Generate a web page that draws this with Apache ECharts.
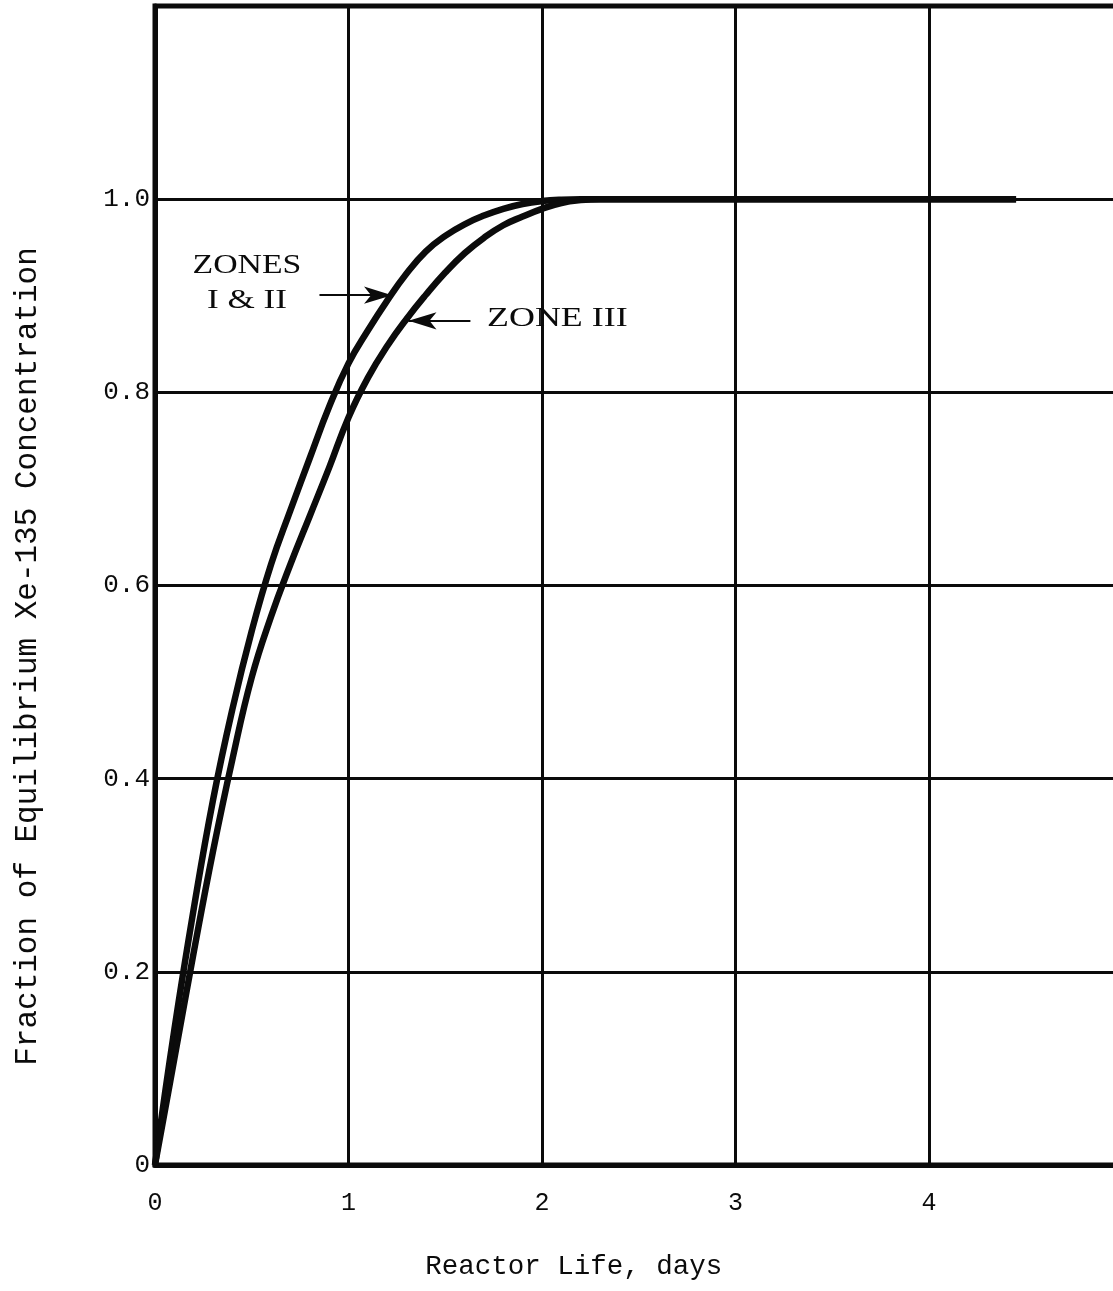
<!DOCTYPE html>
<html>
<head>
<meta charset="utf-8">
<script src="https://cdn.jsdelivr.net/npm/echarts@6/dist/echarts.min.js"></script>
<style>
  html, body { margin: 0; padding: 0; background: #fff; }
  #chart { width: 1113px; height: 1291px; }
</style>
</head>
<body>
<div id="chart"></div>
<script>
// Tick labels
const xTickLabels = ['0', '1', '2', '3', '4', ''];
const yTickLabels = ['0', '0.2', '0.4', '0.6', '0.8', '1.0', ''];

// Xe-135 build-up, Zones I & II (days, fraction of equilibrium)
const zone12Days = [0, 0.1, 0.2, 0.3, 0.4, 0.5, 0.6, 0.7, 0.8, 0.9, 1.0, 1.1, 1.2, 1.3, 1.4, 1.5, 1.6, 1.7, 1.8, 1.9, 2.0, 2.1, 2.2, 2.5, 3.0, 3.5, 4.0, 4.45];
const zone12Frac = [0, 0.14, 0.265, 0.378, 0.472, 0.553, 0.622, 0.678, 0.732, 0.785, 0.83, 0.864, 0.895, 0.923, 0.946, 0.962, 0.974, 0.983, 0.99, 0.995, 0.998, 0.9995, 1.0, 1.0, 1.0, 1.0, 1.0, 1.0];

// Xe-135 build-up, Zone III (days, fraction of equilibrium)
const zone3Days = [0, 0.1, 0.2, 0.3, 0.4, 0.5, 0.6, 0.7, 0.8, 0.9, 1.0, 1.1, 1.2, 1.3, 1.4, 1.5, 1.6, 1.7, 1.8, 1.9, 2.0, 2.1, 2.2, 2.3, 2.5, 3.0, 3.5, 4.0, 4.45];
const zone3Frac = [0, 0.11, 0.22, 0.325, 0.42, 0.505, 0.568, 0.622, 0.672, 0.722, 0.774, 0.815, 0.848, 0.876, 0.901, 0.924, 0.944, 0.96, 0.973, 0.982, 0.99, 0.996, 0.999, 1.0, 1.0, 1.0, 1.0, 1.0, 1.0];

// Callout labels and arrow positions (data units)
const calloutZone12 = { lines: ['ZONES', 'I & II'], at: [0.475, 0.931], at2: [0.475, 0.895], arrowFrom: [0.85, 0.9006], arrowTo: [1.225, 0.9006] };
const calloutZone3 = { text: 'ZONE III', at: [1.716, 0.876], arrowFrom: [1.63, 0.874], arrowTo: [1.31, 0.874] };

const ink = '#0b0b0b';
const monoFont = '"Liberation Mono", "DejaVu Sans Mono", monospace';
const serifFont = '"Liberation Serif", "DejaVu Serif", serif';

const zip = (xs, ys) => xs.map((x, i) => [x, ys[i]]);

const chart = echarts.init(document.getElementById('chart'), null, { renderer: 'canvas' });

const arrowLine = (from, to) => ({
  silent: true,
  symbol: ['none', 'arrow'],
  symbolSize: [13, 28],
  lineStyle: { color: ink, width: 2, type: 'solid' },
  label: { show: false },
  emphasis: { disabled: true },
  data: [[{ coord: from }, { coord: to }]]
});

chart.setOption({
  animation: false,
  backgroundColor: '#fff',
  grid: {
    left: 155, top: 6, right: -9.5, bottom: 126,
    outerBoundsMode: 'none',
    containLabel: false,
    show: true, borderColor: ink, borderWidth: 5, backgroundColor: 'transparent'
  },
  xAxis: {
    type: 'value', min: 0, max: 5, interval: 1,
    axisLine: { show: true, onZero: false, lineStyle: { color: ink, width: 5 } },
    axisTick: { show: false },
    splitLine: { show: true, lineStyle: { color: ink, width: 3 } },
    axisLabel: {
      margin: 26, fontFamily: monoFont, fontSize: 25, color: ink,
      formatter: v => xTickLabels[Math.round(v)]
    },
    name: 'Reactor Life, days',
    nameLocation: 'middle',
    nameGap: 88,
    nameTextStyle: { fontFamily: monoFont, fontSize: 27.5, color: ink, padding: [0, 130, 0, 0] }
  },
  yAxis: {
    type: 'value', min: 0, max: 1.2, interval: 0.2,
    axisLine: { show: true, lineStyle: { color: ink, width: 5 } },
    axisTick: { show: false },
    splitLine: { show: true, lineStyle: { color: ink, width: 3 } },
    axisLabel: {
      margin: 5, fontFamily: monoFont, fontSize: 26, color: ink,
      formatter: v => yTickLabels[Math.round(v / 0.2)]
    },
    name: 'Fraction of Equilibrium Xe-135 Concentration',
    nameLocation: 'middle',
    nameGap: 112,
    nameTextStyle: { fontFamily: monoFont, fontSize: 31, color: ink, padding: [0, 142, 0, 0] }
  },
  series: [
    {
      name: 'Zones I & II',
      type: 'line',
      data: zip(zone12Days, zone12Frac),
      smooth: 0.45,
      showSymbol: false,
      lineStyle: { color: ink, width: 6.5 },
      markLine: arrowLine(calloutZone12.arrowFrom, calloutZone12.arrowTo)
    },
    {
      name: 'Zone III',
      type: 'line',
      data: zip(zone3Days, zone3Frac),
      smooth: 0.45,
      showSymbol: false,
      lineStyle: { color: ink, width: 6.5 },
      markLine: arrowLine(calloutZone3.arrowFrom, calloutZone3.arrowTo)
    }
  ]
});

// Callout texts placed from data coordinates
function placeCallouts() {
  const px = p => chart.convertToPixel({ gridIndex: 0 }, p);
  const textStyle = (text, align) => ({
    text, fill: ink, font: '27px ' + serifFont, align, verticalAlign: 'middle'
  });
  const a = px(calloutZone12.at), b = px(calloutZone12.at2), c = px(calloutZone3.at);
  chart.setOption({
    graphic: [
      { type: 'text', x: a[0], y: a[1], scaleX: 1.25, style: textStyle(calloutZone12.lines[0], 'center'), silent: true },
      { type: 'text', x: b[0], y: b[1], scaleX: 1.3, style: textStyle(calloutZone12.lines[1], 'center'), silent: true },
      { type: 'text', x: c[0], y: c[1], scaleX: 1.33, style: textStyle(calloutZone3.text, 'left'), silent: true }
    ]
  });
}
placeCallouts();
</script>
</body>
</html>
